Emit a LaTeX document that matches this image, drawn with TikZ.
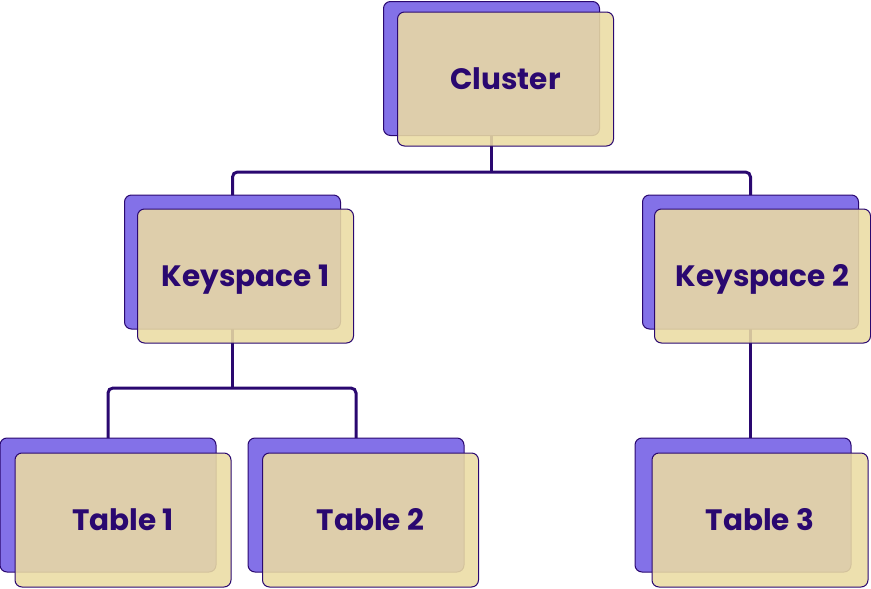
\documentclass[tikz,border=0pt]{standalone}
\usepackage{fontspec}
\setmainfont{Poppins}
\definecolor{ink}{RGB}{42,8,112}
\definecolor{lilac}{RGB}{131,113,232}
\definecolor{sand}{RGB}{235,220,163}
\tikzset{
  backbox/.style={draw=ink, line width=1pt, fill=lilac, rounded corners=7pt,
    minimum width=216pt, minimum height=134pt, inner sep=0pt, outer sep=0pt},
  frontbox/.style={draw=ink, line width=1pt, fill=sand, fill opacity=0.88, text opacity=1,
    rounded corners=7pt, minimum width=216pt, minimum height=134pt, inner sep=0pt,
    outer sep=0pt, text=ink, text height=20.5pt, text depth=0pt,
    font=\fontsize{29.5}{33}\selectfont\bfseries},
  conn/.style={draw=ink, line width=3pt, rounded corners=5pt},
  stem/.style={draw=ink, line width=3pt}
}
\begin{document}
\begin{tikzpicture}[x=1pt, y=-1pt]
\useasboundingbox (0,0) rectangle (871,589);
% back boxes
\node[backbox] (c)  at (491.5,68.5) {};
\node[backbox] (k1) at (232.5,262) {};
\node[backbox] (k2) at (750.5,262) {};
\node[backbox] (t1) at (108,505) {};
\node[backbox] (t2) at (356,505) {};
\node[backbox] (t3) at (743,505) {};
% connectors
\coordinate (h1) at (491.5,172);
\coordinate (h2) at (232.5,388);
\draw[stem] (c.south) -- (h1);
\draw[conn] (k1.north) |- (h1) -| (k2.north);
\draw[stem] (k1.south) -- (h2);
\draw[conn] (t1.north) |- (h2) -| (t2.north);
\draw[stem] (k2.south) -- (k2.south |- t3.north);
% front boxes
\node[frontbox] (cf)  at (505.5,79) {Cluster};
\node[frontbox] (k1f) at (245.5,276) {Keyspace 1};
\node[frontbox] (k2f) at (762.5,276) {Keyspace 2};
\node[frontbox] (t1f) at (123,520) {Table 1};
\node[frontbox] (t2f) at (370.5,520) {Table 2};
\node[frontbox] (t3f) at (760,520) {Table 3};
\end{tikzpicture}
\end{document}
